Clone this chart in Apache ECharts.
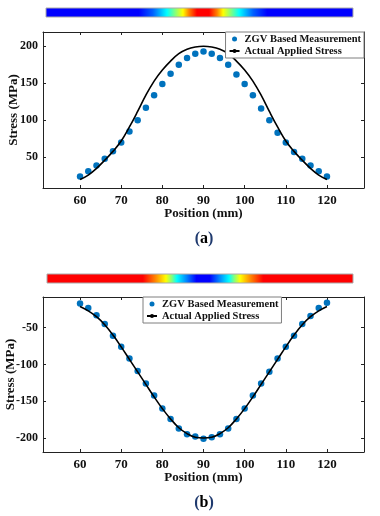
<!DOCTYPE html>
<html><head><meta charset="utf-8">
<script src="https://cdn.jsdelivr.net/npm/echarts@6/dist/echarts.min.js"></script>
<style>html,body{margin:0;padding:0;background:#fff}#c{width:380px;height:516px}</style>
</head><body><div id="c"></div>
<script>
// ---- data ----
const positions = [60,62,64,66,68,70,72,74,76,78,80,82,84,86,88,90,92,94,96,98,100,102,104,106,108,110,112,114,116,118,120];
const measuredA = [24,31,39,48,58,70,85,100,117,134,149,163,175,184,190,193,190,184,175,162,149,134,116,100,83,70,57,48,39,31,24];
const actualA   = [20,26,35,46,58,72,91,112,134,153,168,180,190,196,199,200,199,196,190,180,168,153,134,112,91,72,58,46,35,26,20];
const measuredB = [-17,-23,-33,-45,-61,-76,-92,-109,-126,-142,-160,-174,-187,-195,-198,-201,-199,-195,-187,-174,-160,-142,-126,-110,-92,-76,-61,-45,-34,-23,-16];
const actualB   = [-21,-27,-35,-46,-60,-76,-93,-110,-127,-144,-160,-174,-186,-194,-199,-200,-199,-194,-186,-174,-160,-144,-127,-110,-93,-76,-60,-46,-35,-27,-21];
const xTicks  = [60,70,80,90,100,110,120];
const yTicksA = [50,100,150,200];
const yTicksB = [-200,-150,-100,-50];
const seriesNames = ['ZGV Based Measurement','Actual Applied Stress'];
const xName = 'Position (mm)';
const yName = 'Stress (MPa)';
const captions = ['a','b'];

// ---- styling ----
const FF = "'Liberation Serif','Times New Roman',serif";
const INK = '#111';
const AX = '#222';

function pairs(xs, ys){ return xs.map((x,i)=>[x, ys[i]]); }
const plainNum = v => String(v);

function xAxes(grid){
  const common = {gridIndex:grid, type:'value', min:51, max:129,
    axisLine:{show:true,onZero:false,lineStyle:{color:AX,width:1}},
    splitLine:{show:false}};
  return [
    Object.assign({}, common, {position:'bottom',
      axisTick:{show:true,inside:true,length:3,customValues:xTicks,lineStyle:{color:AX}},
      axisLabel:{show:true,customValues:xTicks,formatter:plainNum,fontFamily:FF,fontWeight:'bold',fontSize:13,color:INK,margin:6},
      name:xName,nameLocation:'middle',nameGap:19,nameMoveOverlap:false,
      nameTextStyle:{fontFamily:FF,fontWeight:'bold',fontSize:13,color:INK}}),
    Object.assign({}, common, {position:'top',
      axisTick:{show:true,inside:true,length:3,customValues:xTicks,lineStyle:{color:AX}},
      axisLabel:{show:false}})
  ];
}
function yAxes(grid, min, max, ticks, gap){
  const common = {gridIndex:grid, type:'value', min:min, max:max,
    axisLine:{show:true,onZero:false,lineStyle:{color:AX,width:1}},
    splitLine:{show:false}};
  return [
    Object.assign({}, common, {position:'left',
      axisTick:{show:true,inside:true,length:3,customValues:ticks,lineStyle:{color:AX}},
      axisLabel:{show:true,customValues:ticks,formatter:plainNum,fontFamily:FF,fontWeight:'bold',fontSize:12,color:INK,margin:5},
      name:yName,nameLocation:'middle',nameGap:gap,nameRotate:90,nameMoveOverlap:false,
      nameTextStyle:{fontFamily:FF,fontWeight:'bold',fontSize:13,color:INK}}),
    Object.assign({}, common, {position:'right',
      axisTick:{show:true,inside:true,length:3,customValues:ticks,lineStyle:{color:AX}},
      axisLabel:{show:false}})
  ];
}
function legendAt(pos){
  return Object.assign({data:seriesNames, orient:'vertical', selectedMode:false,
    itemWidth:10, itemHeight:5, itemGap:0, padding:[1,3,1,3],
    backgroundColor:'#fff', borderColor:'#7f7f7f', borderWidth:1, borderRadius:0,
    textStyle:{fontFamily:FF,fontWeight:'bold',fontSize:10.5,color:INK,lineHeight:12}}, pos);
}
// jet-like colour bar stops, given as mirrored distances (px) from centre
function barFill(x0, w, c, marks){
  const left = marks.slice().reverse().map(m=>({offset:(c - m[0] - x0)/w, color:m[1]}));
  const right = marks.map(m=>({offset:(c + m[0] - x0)/w, color:m[1]}));
  const stops = left.concat(right).map(s=>({offset:Math.min(1,Math.max(0,s.offset)), color:s.color}));
  return {type:'linear',x:0,y:0,x2:1,y2:0,colorStops:stops};
}
const marksA = [[6,'#ff0000'],[14,'#ff8000'],[20,'#ffff00'],[28,'#80ff80'],[36,'#00ffff'],[50,'#0060ff'],[64,'#0000ff']];
const marksB = [[6.5,'#0000ff'],[16,'#0080ff'],[26,'#00ffff'],[31,'#80ff80'],[37,'#ffff00'],[48,'#ff8000'],[60,'#ff0000']];

function caption(letter, y){
  return {type:'text', x:204, y:y, style:{
    text:'{p|(}{t|'+letter+'}{p|)}', align:'center', verticalAlign:'middle',
    rich:{p:{fill:'#1f3a6e',fontFamily:FF,fontWeight:'bold',fontSize:16},
          t:{fill:'#000',fontFamily:FF,fontWeight:'bold',fontSize:16}}}};
}

const chart = echarts.init(document.getElementById('c'), null, {renderer:'canvas'});
chart.setOption({
  animation:false,
  backgroundColor:'#fff',
  grid:[
    {left:43, right:16, top:32, height:156, containLabel:false, outerBoundsMode:'none'},
    {left:43, right:16, top:297, height:155, containLabel:false, outerBoundsMode:'none'}
  ],
  xAxis: xAxes(0).concat(xAxes(1)),
  yAxis: yAxes(0, 8.5, 219.3, yTicksA, 23).concat(yAxes(1, -219, -8.2, yTicksB, 26)),
  legend:[ legendAt({right:16, top:32}), legendAt({left:143, top:297}) ],
  graphic:[
    {type:'rect', shape:{x:46, y:8, width:307, height:9}, style:{fill:barFill(46,307,203,marksA), stroke:'#aaaaaa', lineWidth:1}},
    {type:'rect', shape:{x:47, y:274, width:306, height:9}, style:{fill:barFill(47,306,203,marksB), stroke:'#aaaaaa', lineWidth:1}},
    caption(captions[0], 239),
    caption(captions[1], 503)
  ],
  series:[
    {name:seriesNames[0], type:'scatter', xAxisIndex:0, yAxisIndex:0, data:pairs(positions, measuredA),
     symbol:'circle', symbolSize:6.5, itemStyle:{color:'#0072BD', opacity:1}},
    {name:seriesNames[1], type:'line', xAxisIndex:0, yAxisIndex:0, data:pairs(positions, actualA),
     smooth:0.4, symbol:'none', lineStyle:{color:'#000', width:1.6}, itemStyle:{color:'#000'}},
    {name:seriesNames[0], type:'scatter', xAxisIndex:2, yAxisIndex:2, data:pairs(positions, measuredB),
     symbol:'circle', symbolSize:6.5, itemStyle:{color:'#0072BD', opacity:1}},
    {name:seriesNames[1], type:'line', xAxisIndex:2, yAxisIndex:2, data:pairs(positions, actualB),
     smooth:0.4, symbol:'none', lineStyle:{color:'#000', width:1.6}, itemStyle:{color:'#000'}}
  ]
});
</script>
</body></html>
